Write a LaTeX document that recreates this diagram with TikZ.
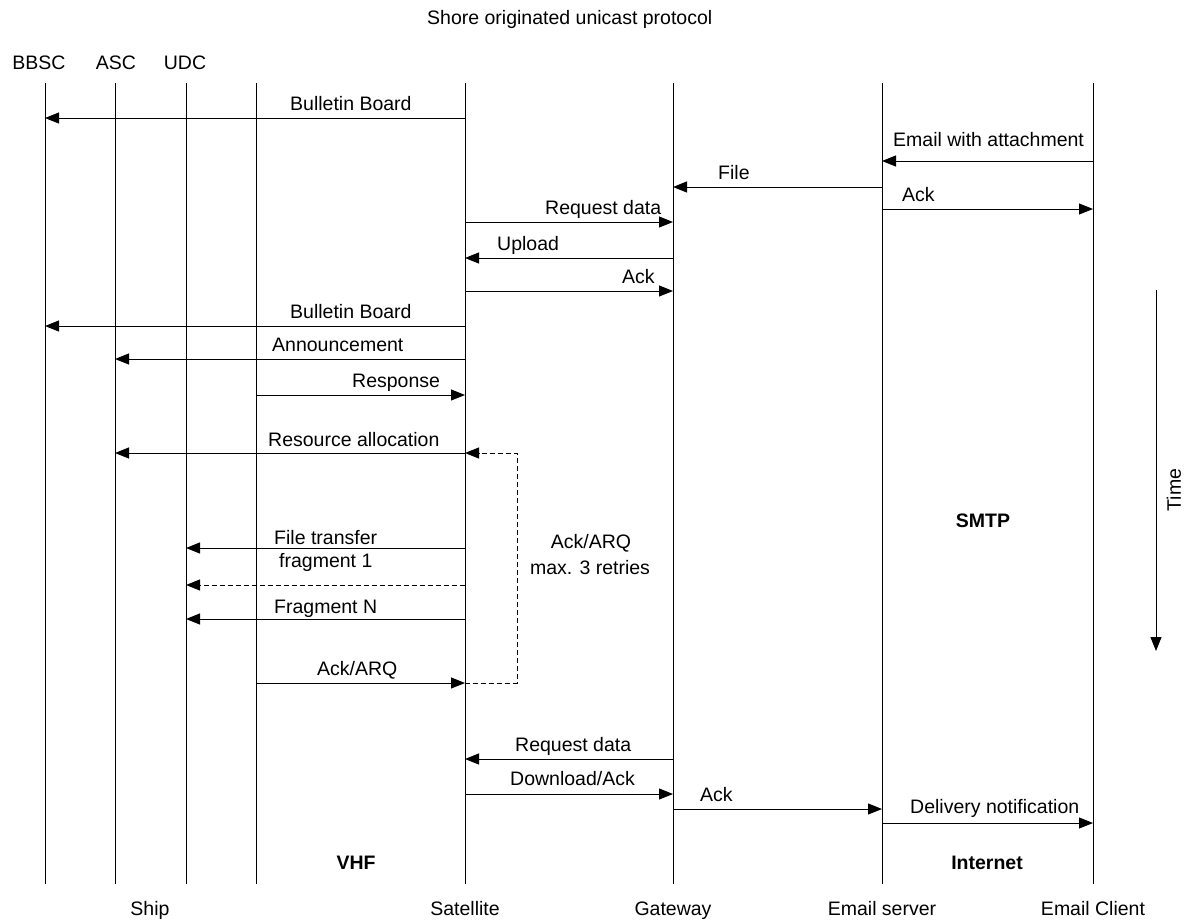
\documentclass[tikz,border=0pt]{standalone}
\usepackage{fontspec}
\setmainfont{Liberation Sans}
\usetikzlibrary{arrows.meta}
\begin{document}
\begin{tikzpicture}[x=1pt,y=-1pt,
  every node/.style={font=\fontsize{19.5}{23}\selectfont, inner sep=0pt},
  life/.style={line width=1pt},
  msg/.style={line width=1pt,-{Triangle[length=14pt,width=11pt]}},
  retry/.style={msg,dash pattern=on 5pt off 3pt},
  lbl/.style={anchor=base west},
  head/.style={anchor=base},
  bold/.style={anchor=base,font=\fontsize{19.5}{23}\selectfont\bfseries}]
\useasboundingbox (0,0) rectangle (1192,924);

% title
\node[lbl] (title) at (427,24) {Shore originated unicast protocol};

% lifelines
\foreach \n/\x in {bbsc/45, asc/115, udc/186, vhf/256, sat/465, gw/673, es/882, ec/1093}{
  \coordinate (\n) at (\x,83);
  \coordinate (\n-b) at (\x,884);
  \draw[life] (\n) -- (\n-b);
}

% entity names
\node[head] (hbbsc) at (39,69) {BBSC};
\node[head] (hasc) at (116,69) {ASC};
\node[head] (hudc) at (185,69) {UDC};
\node[head] (fship) at (150,915) {Ship};
\node[head] (fsat) at (465,915) {Satellite};
\node[head] (fgw) at (673,915) {Gateway};
\node[head] (fes) at (882,915) {Email server};
\node[head] (fec) at (1093,915) {Email Client};

% message levels
\foreach \m/\y in {m1/118, m2/161, m3/187, m4/209, m5/222, m6/258, m7/291, m8/326,
  m9/359, m10/395, m11/453, m12/548, m13/585, m14/619, m15/683, m16/759, m17/794,
  m18/809, m19/823}{
  \coordinate (\m) at (0,\y);
}

% messages
\draw[msg] (sat |- m1) -- (bbsc |- m1);
\node[lbl] (t1) at (290,110) {Bulletin Board};
\draw[msg] (ec |- m2) -- (es |- m2);
\node[lbl] (t2) at (893,146) {Email with attachment};
\draw[msg] (es |- m3) -- (gw |- m3);
\node[lbl] (t3) at (718,179) {File};
\draw[msg] (es |- m4) -- (ec |- m4);
\node[lbl] (t4) at (902,201) {Ack};
\draw[msg] (sat |- m5) -- (gw |- m5);
\node[lbl] (t5) at (545,214) {Request data};
\draw[msg] (gw |- m6) -- (sat |- m6);
\node[lbl] (t6) at (497,250) {Upload};
\draw[msg] (sat |- m7) -- (gw |- m7);
\node[lbl] (t7) at (622,283) {Ack};
\draw[msg] (sat |- m8) -- (bbsc |- m8);
\node[lbl] (t8) at (290,318) {Bulletin Board};
\draw[msg] (sat |- m9) -- (asc |- m9);
\node[lbl] (t9) at (272,351) {Announcement};
\draw[msg] (vhf |- m10) -- (sat |- m10);
\node[lbl] (t10) at (352,387) {Response};
\draw[msg] (sat |- m11) -- (asc |- m11);
\node[lbl] (t11) at (268,446) {Resource allocation};
\draw[msg] (sat |- m12) -- (udc |- m12);
\node[lbl] (t12a) at (274,544) {File transfer};
\node[lbl] (t12b) at (279,567) {fragment 1};
\draw[retry] (sat |- m13) -- (udc |- m13);
\draw[msg] (sat |- m14) -- (udc |- m14);
\node[lbl] (t14) at (274,613) {Fragment N};
\draw[msg] (vhf |- m15) -- (sat |- m15);
\node[lbl] (t15) at (317,675) {Ack/ARQ};

% retransmission loop
\coordinate (loopb) at (517,683);
\coordinate (loopt) at (517,453);
\draw[retry] (sat |- m15) -- (loopb) -- (loopt) -- (sat |- m11);
\node[head] (arq1) at (591,548) {Ack/ARQ};
\node[head] (arq2) at (590,574) {max. 3 retries};

\draw[msg] (gw |- m16) -- (sat |- m16);
\node[lbl] (t16) at (515,751) {Request data};
\draw[msg] (sat |- m17) -- (gw |- m17);
\node[lbl] (t17) at (510,785) {Download/Ack};
\draw[msg] (gw |- m18) -- (es |- m18);
\node[lbl] (t18) at (700,801) {Ack};
\draw[msg] (es |- m19) -- (ec |- m19);
\node[lbl] (t19) at (910,813) {Delivery notification};

% protocol names
\node[bold] (vhfname) at (356,869) {VHF};
\node[bold] (inet) at (987,869) {Internet};
\node[bold] (smtp) at (983,527) {SMTP};

% time axis
\coordinate (tstart) at (1156,290);
\coordinate (tend) at (1156,651);
\draw[msg] (tstart) -- (tend);
\node[rotate=90] (time) at (1174,490) {Time};
\end{tikzpicture}
\end{document}
